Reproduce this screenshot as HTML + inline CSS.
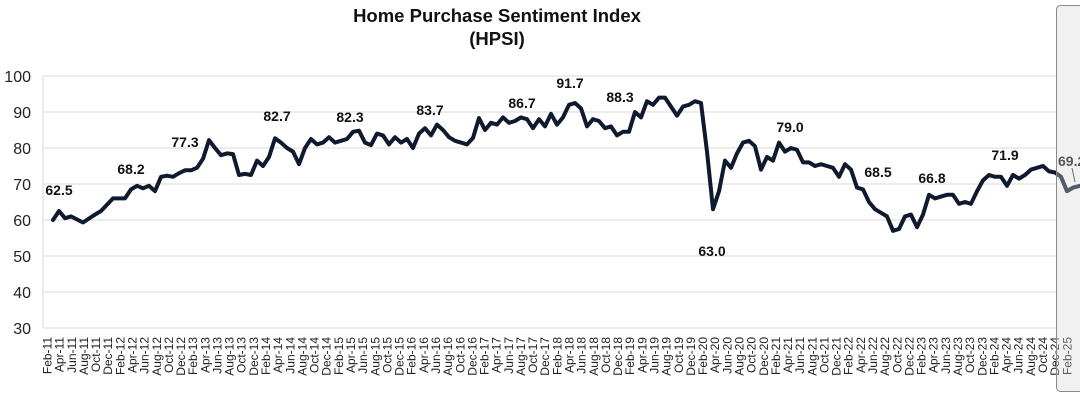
<!DOCTYPE html>
<html><head><meta charset="utf-8"><style>
html,body{margin:0;padding:0;background:#fff;width:1080px;height:411px;overflow:hidden}
svg{display:block;font-family:"Liberation Sans",Arial,sans-serif}
</style></head><body>
<svg id="s" width="1080" height="411" viewBox="0 0 1080 411">
<text x="497" y="22" text-anchor="middle" font-size="18.5" font-weight="bold" fill="#111">Home Purchase Sentiment Index</text>
<text x="497" y="45" text-anchor="middle" font-size="18.5" font-weight="bold" fill="#111">(HPSI)</text>
<g id="grid"></g><g id="xl"></g>
<polyline id="ln" fill="none" stroke="#0f1a2e" stroke-width="4" stroke-linejoin="round" stroke-linecap="round"/>
<g font-size="14" font-weight="bold" fill="#111" text-anchor="middle">
<text x="59" y="195">62.5</text><text x="131" y="174">68.2</text><text x="185" y="147">77.3</text>
<text x="277" y="121">82.7</text><text x="350" y="122">82.3</text><text x="430" y="115">83.7</text>
<text x="522" y="108">86.7</text><text x="570" y="88">91.7</text><text x="620" y="102">88.3</text>
<text x="712" y="256">63.0</text><text x="790" y="132">79.0</text><text x="878" y="177">68.5</text>
<text x="932" y="183">66.8</text><text x="1005" y="160">71.9</text><text x="1058" y="166" text-anchor="start">69.2</text>
</g>
<line x1="1072" y1="168" x2="1075" y2="182" stroke="#333" stroke-width="1"/>
<rect x="1056.5" y="5.5" width="30" height="386" rx="4" fill="#d8d8d8" fill-opacity="0.35" stroke="#8a8a8a" stroke-width="1"/>
</svg>
<script>
const Y=v=>76+(100-v)*3.6;
let g='';
for(let v=30;v<=100;v+=10){g+=`<line x1="43" x2="1056" y1="${Y(v)}" y2="${Y(v)}" stroke="#d9d9d9" stroke-width="1"/><text x="31" y="${Y(v)+6}" font-size="16" text-anchor="end" fill="#222">${v}</text>`;}
g+=`<line x1="43" x2="43" y1="${Y(100)}" y2="${Y(30)}" stroke="#d9d9d9"/>`;
document.getElementById('grid').innerHTML=g;
const M=['Jan','Feb','Mar','Apr','May','Jun','Jul','Aug','Sep','Oct','Nov','Dec'];
let xl='';
for(let i=0;i<=170;i+=2){const m=(1+i)%12,yr=11+Math.floor((1+i)/12);const x=47+6.07*i;if(x>1075)break;
xl+=`<text transform="translate(${x+4.5},337) rotate(-90)" font-size="12" text-anchor="end" fill="#222">${M[m]}-${yr}</text>`;}
document.getElementById('xl').innerHTML=xl;
const p=[[53,60],[59,62.5],[65,60.5],[71,61],[83,59.3],[95,61.5],[101,62.5],[113,66],[125,66],[131,68.5],[137,69.5],[143,68.8],[149,69.5],[155,68],[161,72],[167,72.3],[173,72],[179,73],[185,73.8],[191,73.8],[197,74.5],[203,77],[209,82.2],[215,80],[221,78],[227,78.5],[233,78.3],[239,72.5],[245,72.8],[251,72.5],[257,76.5],[263,75],[269,77.5],[275,82.7],[281,81.5],[287,80],[293,79],[299,75.5],[305,80],[311,82.5],[317,81],[323,81.5],[329,83],[335,81.5],[341,82],[347,82.5],[353,84.5],[359,84.8],[365,81.5],[371,80.8],[377,84],[383,83.5],[389,81],[395,83],[401,81.5],[407,82.5],[413,80],[419,84],[425,85.5],[431,83.5],[437,86.5],[443,85],[449,83],[455,82],[461,81.5],[467,81],[473,82.8],[479,88.3],[485,85],[491,87],[497,86.5],[503,88.5],[509,87],[515,87.5],[521,88.5],[527,88],[533,85.5],[539,88],[545,86],[551,89.5],[557,86.5],[563,88.5],[569,92],[575,92.5],[581,91],[587,86],[593,88],[599,87.5],[605,85.5],[611,86],[617,83.5],[623,84.5],[629,84.5],[635,90],[641,88.5],[647,93],[653,92],[659,94],[665,94],[671,91.5],[677,89],[683,91.5],[689,92],[695,93],[701,92.5],[707,79],[713,63],[719,68],[725,76.5],[731,74.5],[737,78.5],[743,81.5],[749,82],[755,80.5],[761,74],[767,77.5],[773,76.5],[779,81.5],[785,79],[791,80],[797,79.5],[803,76],[809,76],[815,75],[821,75.5],[827,75],[833,74.5],[839,72],[845,75.5],[851,74],[857,69],[863,68.5],[869,65],[875,63],[881,62],[887,61],[893,57],[899,57.5],[905,61],[911,61.5],[917,58],[923,61.5],[929,67],[935,66],[941,66.5],[947,67],[953,67],[959,64.5],[965,65],[971,64.5],[977,68],[983,71],[989,72.5],[995,72],[1001,72],[1007,69.5],[1013,72.5],[1019,71.5],[1025,72.5],[1031,74],[1037,74.5],[1043,75],[1049,73.5],[1055,73.2],[1061,72],[1067,68],[1073,69],[1080,69.5]];
document.getElementById('ln').setAttribute('points',p.map(a=>a[0]+','+Y(a[1]).toFixed(1)).join(' '));
</script>
</body></html>
